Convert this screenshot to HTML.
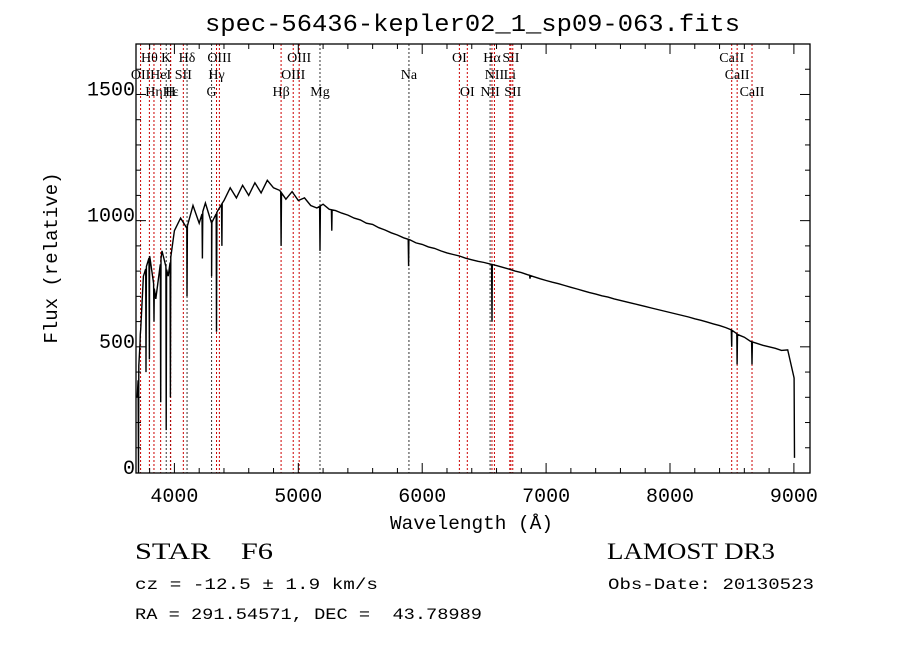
<!DOCTYPE html>
<html><head><meta charset="utf-8"><style>
body{margin:0;background:#fff;}
svg text{font-family:"Liberation Mono",monospace;fill:#000;}
.ser{font-family:"Liberation Serif",serif;}
</style></head><body>
<svg id="c" width="900" height="649" viewBox="0 0 900 649" xmlns="http://www.w3.org/2000/svg">
<rect width="900" height="649" fill="#fff"/>
<text x="205" y="31" font-size="24" textLength="535" lengthAdjust="spacingAndGlyphs">spec-56436-kepler02_1_sp09-063.fits</text>
<g id="plot"></g>
<text x="390" y="529" font-size="19" textLength="163" lengthAdjust="spacingAndGlyphs">Wavelength (Å)</text>
<text x="57" y="258" font-size="19" text-anchor="middle" transform="rotate(-90 57 258)">Flux (relative)</text>
<text class="ser" x="135" y="559" font-size="23" xml:space="preserve" textLength="138" lengthAdjust="spacingAndGlyphs">STAR    F6</text>
<text class="ser" x="607" y="559" font-size="23" textLength="168" lengthAdjust="spacingAndGlyphs">LAMOST DR3</text>
<text x="135" y="589" font-size="16" textLength="243" lengthAdjust="spacingAndGlyphs">cz = -12.5 ± 1.9 km/s</text>
<text x="608" y="589" font-size="16" textLength="206" lengthAdjust="spacingAndGlyphs">Obs-Date: 20130523</text>
<text x="135" y="619" font-size="16" xml:space="preserve" textLength="347" lengthAdjust="spacingAndGlyphs">RA = 291.54571, DEC =  43.78989</text>
</svg>
<script>
const waveStart = 3700, waveStep = 50;
const flux = [300,780,860,690,880,780,960,1010,970,1060,990,1070,990,1040,1080,1130,1090,1140,1100,1150,1110,1160,1130,1120,1085,1115,1080,1090,1060,1050,1065,1045,1040,1030,1022,1010,1003,990,985,972,963,952,943,932,924,912,906,896,890,880,872,866,860,851,845,839,834,828,822,815,808,800,794,786,778,770,763,756,750,743,736,729,722,715,709,702,697,690,684,678,672,666,660,654,648,642,636,630,624,618,611,605,598,591,584,576,566,548,538,522,514,506,500,494,486,488,380];
const dipWave = [3710,3725,3771,3798,3835,3889,3934,3968,4102,4226,4300,4340,4383,4861,5175,5270,5890,6563,6870,8498,8542,8662,9005];
const dipFlux = [0,550,400,450,600,280,170,300,700,850,780,560,900,900,880,960,820,600,770,500,430,430,60];
const lineWave = [3727,3798,3835,3889,3934,3968,3970,4072,4102,4300,4340,4363,4861,4959,5007,5175,5893,6300,6364,6548,6563,6583,6707,6716,6731,8498,8542,8662];
const lineName = ["OII","Hθ","Hη","HeI","K","H","Hε","SII","Hδ","G","Hγ","OIII","Hβ","OIII","OIII","Mg","Na","OI","OI","NII","Hα","NII","Li","SII","SII","CaII","CaII","CaII"];
const lineRow = [1,0,2,1,0,2,2,1,0,2,1,0,2,1,0,2,1,0,2,2,0,1,1,0,2,0,1,2];
const lineRed = [1,1,1,1,0,0,1,1,0,0,1,1,1,1,1,0,0,1,1,0,1,1,1,1,1,1,1,1];
const xTicks = [4000,5000,6000,7000,8000,9000];
const yTicks = [0,500,1000,1500];

const L=136,R=810,T=44,B=473,xmin=3690,xmax=9130,ymin=0,ymax=1700;
const X=w=>L+(w-xmin)/(xmax-xmin)*(R-L);
const Y=f=>B-(f-ymin)/(ymax-ymin)*(B-T);
const NS="http://www.w3.org/2000/svg";
const g=document.getElementById('plot');
function mk(t,a){const e=document.createElementNS(NS,t);for(const k in a)e.setAttribute(k,a[k]);g.appendChild(e);return e;}

lineWave.forEach((w,i)=>{
  const ln=mk('line',{x1:X(w),x2:X(w),y1:T,y2:B,stroke:lineRed[i]?'#c00':'#333','stroke-width':1,'stroke-dasharray':'2,2'});
  
  
  const t=mk('text',{x:X(w),y:62+lineRow[i]*17,'font-size':14,'text-anchor':'middle',class:'ser'});
  t.textContent=lineName[i];
  
  
});

let pts=flux.map((f,i)=>[waveStart+i*waveStep,f]);
dipWave.forEach((w,i)=>{pts.push([w-3,null]);pts.push([w,dipFlux[i]]);pts.push([w+3,null]);});
pts.sort((a,b)=>a[0]-b[0]);
function cont(w){const i=Math.min(flux.length-2,Math.max(0,Math.floor((w-waveStart)/waveStep)));const t=(w-waveStart-i*waveStep)/waveStep;return flux[i]*(1-t)+flux[i+1]*t;}
pts=pts.filter(p=>p[0]>=3700&&p[0]<=9005).map(p=>[p[0],p[1]===null?cont(p[0]):p[1]]);
const sp=mk('polyline',{points:pts.map(p=>X(p[0]).toFixed(1)+','+Y(p[1]).toFixed(1)).join(' '),fill:'none',stroke:'#000','stroke-width':1.4});



const fr=mk('rect',{x:L,y:T,width:R-L,height:B-T,fill:'none',stroke:'#000','stroke-width':1.3});



for(let w=3800;w<=9100;w+=200){
  const maj=w%1000===0, len=maj?10:5;
  mk('line',{x1:X(w),x2:X(w),y1:B,y2:B-len,stroke:'#000'});
  mk('line',{x1:X(w),x2:X(w),y1:T,y2:T+len,stroke:'#000'});
}
xTicks.forEach(w=>{const t=mk('text',{x:X(w),y:B+29,'font-size':20,'text-anchor':'middle'});t.textContent=w;
  
  });
for(let f=0;f<=1700;f+=100){
  const maj=f%500===0,len=maj?10:5;
  mk('line',{x1:L,x2:L+len,y1:Y(f),y2:Y(f),stroke:'#000'});
  mk('line',{x1:R,x2:R-len,y1:Y(f),y2:Y(f),stroke:'#000'});
}
yTicks.forEach(f=>{const t=mk('text',{x:L-1,y:Y(f)+1,'font-size':20,'text-anchor':'end'});t.textContent=f;
  
  });
</script>
</body></html>
